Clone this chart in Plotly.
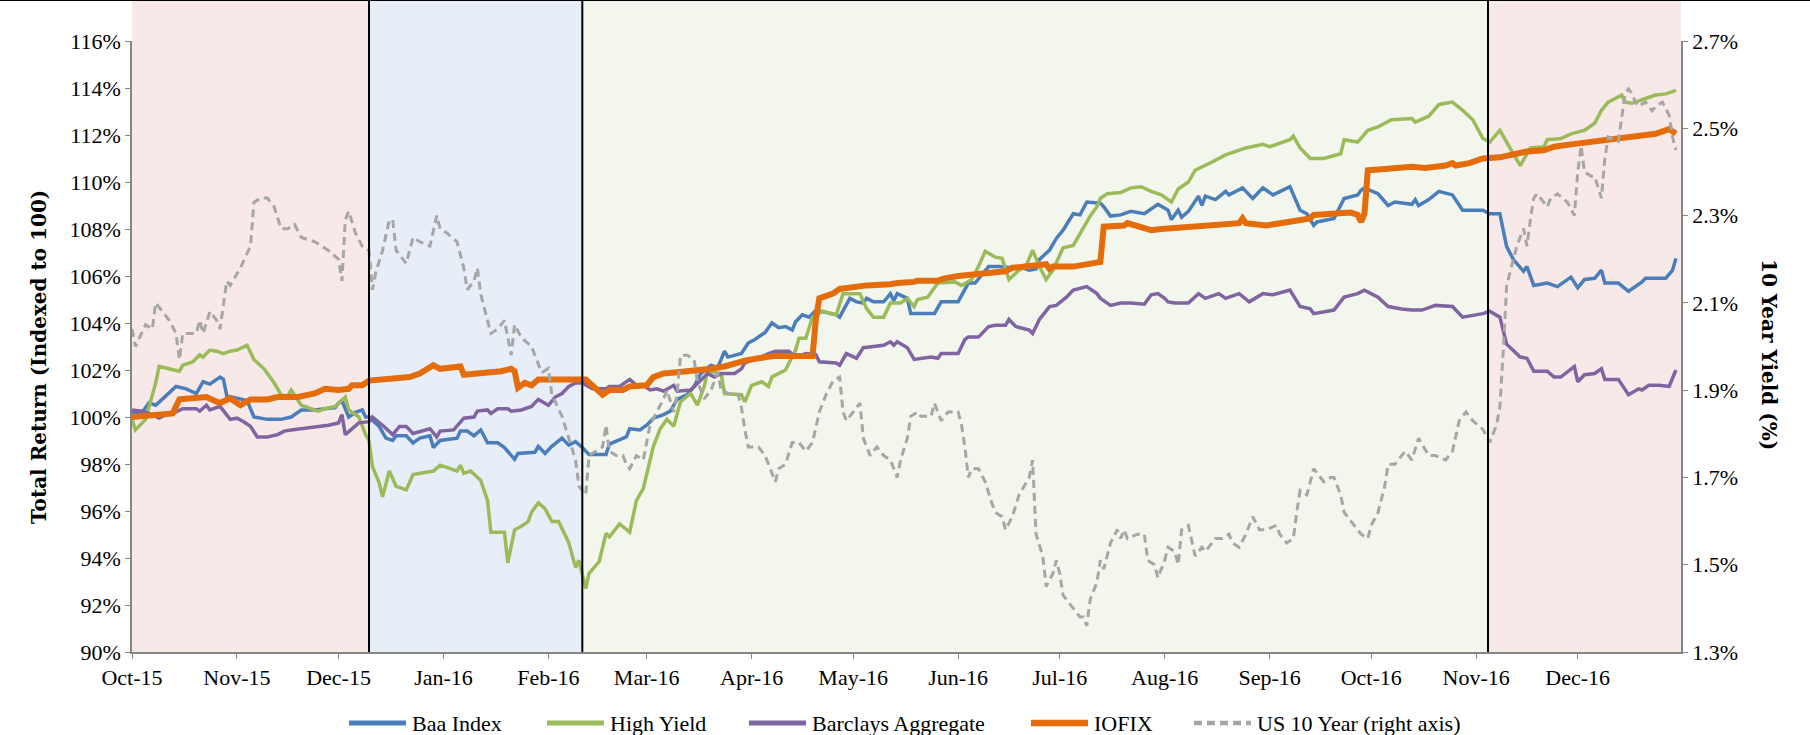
import pandas as pd
import plotly.graph_objects as go

# Daily index levels; x = days after 1 Oct 2015
START = "2015-10-01"
END = "2016-12-31 12:00"

baa = [
    (0, 100.2), (3, 100.2), (5, 100.6), (7, 100.5), (10, 100.9), (13, 101.3), (16, 101.2), (19, 101.0),
    (21, 101.5), (23, 101.4), (26, 101.7), (27, 101.6), (28, 100.9), (31, 100.8), (34, 100.7), (36, 100.0),
    (40, 99.9), (44, 99.9), (47, 100.0), (50, 100.3), (54, 100.3), (60, 100.4), (61, 100.6), (62, 100.7),
    (64, 100.0), (66, 100.2), (68, 100.3), (69, 100.0), (70, 100.0), (73, 99.6), (75, 99.1), (77, 99.0),
    (78, 99.2), (81, 99.2), (83, 98.9), (85, 99.1), (88, 99.2), (89, 98.7), (91, 99.0), (96, 99.1),
    (97, 99.4), (99, 99.4), (101, 99.2), (103, 99.45), (105, 98.9), (108, 98.9), (110, 98.7), (113, 98.2),
    (114, 98.45), (119, 98.5), (120, 98.75), (122, 98.45), (124, 98.75), (127, 99.1), (129, 98.8), (131, 98.95),
    (133, 98.7), (135, 98.4), (140, 98.4), (141, 98.85), (146, 99.15), (147, 99.5), (150, 99.45), (152, 99.65),
    (154, 99.95), (157, 100.1), (159, 100.25), (160, 100.5), (161, 100.75), (164, 100.95), (166, 101.3), (168, 101.85),
    (171, 102.2), (173, 102.1), (175, 102.8), (176, 102.55), (180, 102.7), (182, 103.15), (184, 103.3), (187, 103.6),
    (189, 104.0), (191, 103.8), (193, 103.85), (195, 103.7), (196, 104.05), (198, 104.35), (200, 104.25), (202, 104.55),
    (208, 104.35), (209, 104.25), (212, 105.05), (214, 104.9), (216, 104.85), (217, 105.05), (219, 104.9), (222, 104.9),
    (224, 105.25), (225, 104.95), (226, 105.25), (229, 105.05), (230, 104.4), (237, 104.4), (239, 104.9), (244, 104.9),
    (246, 105.4), (247, 105.7), (249, 105.7), (251, 106.05), (253, 106.4), (256, 106.4), (260, 106.35), (262, 106.4),
    (265, 106.25), (267, 106.3), (268, 106.7), (271, 107.1), (273, 107.6), (275, 107.95), (278, 108.65), (280, 108.6),
    (282, 109.15), (286, 109.1), (287, 108.95), (289, 108.55), (292, 108.6), (295, 108.75), (299, 108.65), (303, 109.05),
    (306, 108.8), (307, 108.4), (309, 108.8), (310, 108.5), (312, 108.75), (315, 109.4), (316, 109.0), (317, 109.4),
    (320, 109.25), (323, 109.6), (324, 109.45), (328, 109.75), (331, 109.3), (334, 109.75), (337, 109.45), (342, 109.8),
    (345, 108.8), (347, 108.65), (349, 108.15), (350, 108.3), (355, 108.45), (358, 109.3), (362, 109.45), (363, 109.65),
    (364, 109.75), (368, 109.5), (371, 109.0), (373, 109.15), (378, 109.05), (379, 109.25), (380, 109.0), (383, 109.25),
    (386, 109.6), (390, 109.45), (393, 108.8), (399, 108.8), (401, 108.65), (404, 108.65), (406, 107.25), (408, 106.7),
    (411, 106.2), (412, 106.4), (414, 105.6), (418, 105.7), (421, 105.55), (425, 105.95), (427, 105.5), (429, 105.85),
    (432, 105.9), (434, 106.25), (435, 105.7), (439, 105.7), (442, 105.35), (446, 105.75), (447, 105.9), (453, 105.9),
    (455, 106.25), (456, 106.75),
]

high_yield = [
    (0, 99.9), (1, 99.45), (4, 99.9), (5, 100.45), (7, 101.45), (8, 102.15), (11, 102.05), (14, 101.95),
    (15, 102.2), (18, 102.35), (20, 102.65), (21, 102.55), (23, 102.85), (25, 102.8), (27, 102.7), (29, 102.8),
    (31, 102.85), (33, 103.0), (34, 103.05), (36, 102.45), (39, 102.05), (42, 101.45), (44, 100.95), (46, 100.9),
    (47, 101.15), (50, 100.5), (53, 100.35), (55, 100.25), (57, 100.35), (60, 100.45), (63, 100.85), (64, 100.3),
    (67, 100.0), (69, 99.25), (70, 99.0), (71, 97.9), (73, 97.2), (74, 96.6), (76, 97.7), (78, 97.05),
    (81, 96.9), (83, 97.55), (89, 97.7), (91, 97.95), (94, 97.8), (96, 97.7), (97, 97.95), (98, 97.6),
    (100, 97.7), (103, 97.3), (105, 96.45), (106, 95.1), (110, 95.1), (111, 93.8), (113, 95.2), (115, 95.35),
    (117, 95.55), (118, 95.95), (120, 96.35), (122, 96.1), (124, 95.55), (126, 95.55), (129, 94.65), (131, 93.6),
    (132, 93.9), (134, 92.7), (135, 93.35), (138, 93.85), (140, 95.05), (141, 94.9), (144, 95.45), (147, 95.1),
    (149, 96.45), (151, 96.95), (154, 98.75), (156, 99.5), (158, 99.9), (160, 99.6), (162, 100.65), (165, 101.0),
    (167, 100.5), (169, 101.3), (170, 101.95), (174, 101.85), (175, 101.0), (180, 100.95), (181, 100.65), (183, 101.35),
    (186, 101.5), (188, 101.3), (189, 101.7), (191, 101.85), (193, 102.0), (196, 102.85), (197, 103.35), (199, 103.35),
    (201, 104.25), (204, 104.5), (208, 104.35), (210, 105.25), (215, 105.25), (217, 104.6), (219, 104.25), (222, 104.25),
    (224, 104.85), (227, 104.85), (229, 105.05), (231, 104.7), (232, 105.0), (235, 105.1), (238, 105.7), (243, 105.75),
    (245, 105.6), (248, 105.85), (250, 106.4), (252, 107.05), (255, 106.8), (257, 106.75), (258, 106.35), (259, 105.85),
    (262, 106.25), (264, 106.4), (266, 107.1), (268, 106.4), (270, 105.85), (272, 106.25), (275, 107.2), (278, 107.3),
    (280, 107.8), (283, 108.55), (285, 108.95), (286, 109.3), (288, 109.5), (292, 109.55), (295, 109.75), (298, 109.8),
    (301, 109.6), (304, 109.45), (307, 109.15), (309, 109.7), (312, 110.0), (314, 110.5), (319, 110.85), (323, 111.15),
    (326, 111.3), (329, 111.45), (334, 111.6), (336, 111.5), (342, 111.8), (343, 111.95), (345, 111.45), (348, 111.0),
    (352, 111.0), (357, 111.2), (358, 111.8), (362, 111.7), (365, 112.2), (368, 112.35), (372, 112.65), (378, 112.7),
    (379, 112.55), (383, 112.8), (386, 113.3), (390, 113.4), (393, 113.05), (396, 112.65), (399, 111.85), (401, 111.7),
    (404, 112.2), (407, 111.45), (410, 110.7), (413, 111.45), (417, 111.5), (418, 111.8), (422, 111.85), (425, 112.05),
    (429, 112.2), (432, 112.5), (434, 113.05), (436, 113.4), (440, 113.7), (441, 113.4), (443, 113.35), (446, 113.5),
    (450, 113.7), (453, 113.75), (456, 113.9),
]

barclays_agg = [
    (0, 100.3), (3, 100.25), (5, 100.15), (8, 99.95), (10, 100.1), (12, 100.15), (15, 100.35), (19, 100.35),
    (20, 100.25), (22, 100.5), (23, 100.3), (26, 100.45), (29, 99.9), (31, 99.95), (33, 99.8), (35, 99.6),
    (37, 99.15), (40, 99.15), (43, 99.25), (45, 99.4), (47, 99.45), (50, 99.5), (54, 99.55), (58, 99.65),
    (61, 99.75), (62, 100.1), (63, 99.25), (65, 99.5), (67, 99.75), (70, 99.8), (71, 100.0), (74, 99.65),
    (77, 99.25), (79, 99.6), (81, 99.6), (83, 99.3), (87, 99.45), (88, 99.5), (90, 99.15), (91, 99.4),
    (95, 99.45), (97, 99.75), (98, 99.95), (101, 100.0), (102, 100.25), (105, 100.3), (106, 100.15), (108, 100.35),
    (111, 100.35), (112, 100.25), (115, 100.3), (118, 100.45), (120, 100.75), (123, 100.5), (125, 100.85), (127, 101.0),
    (129, 101.3), (131, 101.45), (133, 101.45), (136, 101.2), (140, 101.2), (141, 101.3), (144, 101.3), (147, 101.6),
    (149, 101.35), (151, 101.35), (153, 101.15), (155, 101.2), (157, 101.1), (160, 101.35), (161, 101.1), (165, 101.15),
    (167, 101.45), (170, 101.85), (172, 101.7), (174, 101.85), (178, 101.85), (180, 102.05), (181, 102.3), (185, 102.5),
    (188, 102.7), (190, 102.8), (194, 102.8), (196, 102.55), (199, 102.7), (202, 102.65), (203, 102.35), (208, 102.3),
    (209, 102.2), (211, 102.7), (214, 102.5), (216, 102.95), (219, 103.0), (222, 103.05), (224, 103.2), (225, 103.05),
    (226, 103.2), (229, 102.95), (231, 102.45), (236, 102.55), (238, 102.5), (239, 102.7), (244, 102.7), (246, 103.3),
    (247, 103.4), (250, 103.4), (253, 103.85), (255, 103.9), (258, 103.9), (259, 104.15), (261, 103.85), (265, 103.7),
    (266, 103.55), (268, 104.15), (271, 104.7), (273, 104.75), (276, 105.1), (278, 105.4), (282, 105.55), (285, 105.25),
    (286, 105.05), (289, 104.75), (292, 104.85), (295, 104.85), (299, 104.8), (301, 105.2), (303, 105.25), (305, 105.05),
    (306, 104.9), (308, 104.85), (310, 104.85), (312, 104.85), (315, 105.25), (317, 105.05), (321, 105.25), (323, 105.05),
    (327, 105.25), (330, 104.9), (334, 105.25), (337, 105.2), (342, 105.4), (345, 104.7), (348, 104.6), (349, 104.4),
    (355, 104.55), (358, 105.1), (362, 105.25), (364, 105.4), (368, 105.1), (371, 104.7), (375, 104.6), (378, 104.55),
    (381, 104.55), (385, 104.75), (390, 104.7), (393, 104.25), (399, 104.4), (401, 104.5), (404, 104.25), (406, 103.1),
    (410, 102.55), (412, 102.5), (414, 101.95), (418, 101.95), (420, 101.7), (422, 101.7), (426, 102.15), (427, 101.5),
    (429, 101.8), (432, 101.85), (434, 102.05), (435, 101.6), (439, 101.6), (442, 100.95), (445, 101.2), (446, 101.15),
    (448, 101.35), (451, 101.35), (454, 101.3), (456, 102.0),
]

iofix = [
    (0, 100.0), (8, 100.1), (12, 100.15), (14, 100.75), (19, 100.8), (22, 100.85), (25, 100.65), (26, 100.6),
    (29, 100.8), (32, 100.5), (35, 100.75), (40, 100.75), (43, 100.85), (49, 100.85), (54, 101.0), (57, 101.2),
    (61, 101.15), (64, 101.2), (65, 101.35), (68, 101.35), (70, 101.55), (74, 101.6), (76, 101.65), (78, 101.7),
    (82, 101.7), (85, 101.85), (87, 102.05), (89, 102.2), (91, 102.05), (97, 102.15), (98, 101.8), (102, 101.85),
    (104, 101.9), (109, 101.95), (112, 102.05), (113, 101.95), (114, 101.25), (116, 101.45), (118, 101.35), (120, 101.6),
    (134, 101.6), (137, 101.25), (139, 100.95), (141, 101.15), (145, 101.15), (147, 101.3), (152, 101.35), (154, 101.7),
    (157, 101.85), (161, 101.9), (165, 101.95), (167, 102.0), (171, 102.05), (175, 102.15), (178, 102.3), (181, 102.4),
    (185, 102.5), (189, 102.55), (190, 102.6), (201, 102.6), (202, 104.2), (203, 105.05), (207, 105.25), (209, 105.45),
    (215, 105.55), (217, 105.6), (224, 105.65), (226, 105.7), (231, 105.75), (232, 105.8), (238, 105.8), (240, 105.9),
    (244, 106.0), (250, 106.1), (252, 106.15), (258, 106.2), (260, 106.35), (264, 106.4), (270, 106.5), (271, 106.3),
    (272, 106.4), (278, 106.4), (283, 106.5), (286, 106.6), (287, 108.1), (293, 108.15), (294, 108.25), (298, 108.1),
    (301, 107.95), (304, 108.0), (308, 108.05), (314, 108.15), (320, 108.2), (327, 108.25), (328, 108.45), (329, 108.25),
    (335, 108.15), (342, 108.3), (348, 108.45), (349, 108.6), (355, 108.65), (360, 108.7), (362, 108.6), (363, 108.3),
    (364, 108.65), (365, 110.5), (370, 110.55), (378, 110.65), (382, 110.6), (388, 110.7), (390, 110.8), (391, 110.7),
    (395, 110.8), (399, 111.0), (404, 111.05), (410, 111.2), (412, 111.3), (417, 111.35), (420, 111.5), (425, 111.6),
    (430, 111.7), (437, 111.8), (444, 111.95), (450, 112.05), (454, 112.25), (456, 112.05),
]

us_10yr = [
    (0, 2.04), (1, 2.00), (4, 2.05), (6, 2.04), (7, 2.10), (9, 2.08), (11, 2.06), (13, 2.03), (14, 1.97),
    (15, 2.03), (17, 2.03), (19, 2.03), (20, 2.06), (21, 2.03), (23, 2.08), (25, 2.06), (26, 2.04), (28, 2.15),
    (29, 2.14), (32, 2.18), (35, 2.23), (36, 2.33), (38, 2.34), (40, 2.34), (42, 2.32), (44, 2.27), (46, 2.27),
    (48, 2.28), (50, 2.25), (54, 2.24), (58, 2.22), (61, 2.20), (62, 2.15), (63, 2.29), (64, 2.31), (66, 2.26),
    (68, 2.23), (70, 2.22), (71, 2.13), (72, 2.17), (74, 2.22), (76, 2.29), (77, 2.29), (78, 2.22), (81, 2.19),
    (83, 2.25), (85, 2.24), (88, 2.23), (90, 2.30), (91, 2.27), (93, 2.26), (96, 2.24), (98, 2.18), (99, 2.13),
    (101, 2.15), (102, 2.18), (103, 2.12), (105, 2.06), (106, 2.03), (108, 2.04), (110, 2.06), (112, 1.98), (113, 2.05),
    (115, 2.02), (118, 2.00), (119, 1.98), (121, 1.94), (123, 1.95), (124, 1.89), (127, 1.84), (129, 1.79), (131, 1.74),
    (132, 1.68), (134, 1.66), (135, 1.75), (137, 1.76), (139, 1.77), (140, 1.82), (141, 1.76), (143, 1.75), (145, 1.75),
    (146, 1.73), (147, 1.72), (149, 1.75), (151, 1.74), (153, 1.82), (155, 1.85), (157, 1.88), (158, 1.90), (160, 1.85),
    (161, 1.89), (162, 1.98), (164, 1.98), (166, 1.97), (167, 1.92), (169, 1.88), (171, 1.90), (173, 1.94), (174, 1.90),
    (177, 1.89), (179, 1.89), (180, 1.86), (181, 1.81), (182, 1.77), (185, 1.77), (187, 1.75), (188, 1.73), (190, 1.69),
    (191, 1.72), (193, 1.73), (195, 1.78), (197, 1.78), (199, 1.76), (201, 1.78), (203, 1.85), (205, 1.89), (207, 1.92),
    (209, 1.93), (210, 1.85), (211, 1.83), (213, 1.85), (215, 1.87), (216, 1.79), (218, 1.75), (220, 1.77), (222, 1.75),
    (224, 1.74), (226, 1.70), (227, 1.74), (229, 1.79), (230, 1.84), (232, 1.85), (233, 1.84), (236, 1.84), (237, 1.87),
    (239, 1.83), (241, 1.85), (244, 1.85), (245, 1.82), (246, 1.77), (247, 1.70), (248, 1.72), (250, 1.72), (252, 1.69),
    (254, 1.64), (255, 1.62), (257, 1.61), (258, 1.58), (260, 1.61), (262, 1.66), (265, 1.70), (266, 1.74), (267, 1.57),
    (269, 1.52), (270, 1.45), (272, 1.48), (273, 1.51), (274, 1.48), (275, 1.43), (278, 1.40), (280, 1.38), (281, 1.38),
    (282, 1.36), (283, 1.42), (285, 1.46), (286, 1.51), (287, 1.49), (289, 1.55), (291, 1.58), (292, 1.56), (293, 1.58),
    (294, 1.56), (297, 1.57), (299, 1.57), (300, 1.51), (302, 1.50), (303, 1.47), (305, 1.51), (306, 1.54), (308, 1.53),
    (309, 1.50), (310, 1.58), (312, 1.59), (314, 1.52), (316, 1.54), (317, 1.53), (320, 1.56), (322, 1.56), (324, 1.57),
    (325, 1.55), (327, 1.54), (329, 1.57), (331, 1.61), (333, 1.58), (335, 1.58), (338, 1.59), (339, 1.57), (341, 1.55),
    (343, 1.56), (344, 1.62), (345, 1.67), (347, 1.66), (349, 1.72), (350, 1.71), (352, 1.69), (354, 1.70), (355, 1.70),
    (357, 1.66), (358, 1.62), (360, 1.60), (363, 1.57), (365, 1.56), (366, 1.59), (368, 1.62), (370, 1.68), (371, 1.73),
    (373, 1.73), (376, 1.76), (378, 1.74), (380, 1.79), (383, 1.75), (385, 1.75), (388, 1.74), (390, 1.76), (392, 1.83),
    (394, 1.85), (396, 1.83), (399, 1.81), (401, 1.78), (403, 1.82), (404, 1.86), (405, 1.99), (406, 2.14), (408, 2.20),
    (409, 2.23), (411, 2.27), (412, 2.23), (413, 2.29), (414, 2.34), (415, 2.35), (417, 2.33), (418, 2.32), (419, 2.34),
    (421, 2.35), (424, 2.33), (426, 2.30), (427, 2.40), (428, 2.46), (429, 2.40), (431, 2.39), (432, 2.39), (434, 2.34),
    (435, 2.43), (436, 2.48), (439, 2.47), (440, 2.53), (441, 2.58), (442, 2.59), (443, 2.58), (444, 2.56), (445, 2.55),
    (447, 2.56), (449, 2.54), (450, 2.55), (452, 2.56), (454, 2.53), (455, 2.48), (456, 2.45),
]

# market regimes shaded behind the lines
regime_edges = ["2015-10-01", "2015-12-10", "2016-02-11", "2016-11-04 12:00", END]
regime_colors = ["#F7E9E8", "#E8EEF7", "#F3F6EC", "#F7E9E8"]

left_ticks = list(range(90, 118, 2))
right_ticks = [1.3, 1.5, 1.7, 1.9, 2.1, 2.3, 2.5, 2.7]

start = pd.Timestamp(START)


def to_xy(pairs):
    days, vals = zip(*pairs)
    return start + pd.to_timedelta(list(days), unit="D"), list(vals)


# plot area in pixels: left 132, right 1681, top 41, bottom 652
PW, PH = 1549, 611
TOP = 1 + 41 / PH  # shading runs up to the top edge of the image


def px(x):
    return (x - 132) / PW


series = [
    # name, data, axis, colour, width, dash, legend line start (px)
    ("Baa Index", baa, "y", "#4A7EBB", 3.5, "solid", 349),
    ("High Yield", high_yield, "y", "#9BBB59", 3.5, "solid", 547),
    ("Barclays Aggregate", barclays_agg, "y", "#8064A2", 3.5, "solid", 749),
    ("IOFIX", iofix, "y", "#E46C0A", 6, "solid", 1031),
    ("US 10 Year (right axis)", us_10yr, "y2", "#A6A6A6", 3, "8px,5px", 1194),
]

fig = go.Figure()
shapes = []
annotations = []
LEG_Y = (652 - 723) / PH

for i, color in enumerate(regime_colors):
    shapes.append(dict(type="rect", xref="x", yref="paper", x0=regime_edges[i], x1=regime_edges[i + 1],
                       y0=0, y1=TOP, fillcolor=color, line_width=0, layer="below"))
for edge in regime_edges[1:-1]:
    shapes.append(dict(type="line", xref="x", yref="paper", x0=edge, x1=edge, y0=0, y1=TOP,
                       line=dict(color="black", width=2), layer="above"))
shapes.append(dict(type="line", xref="paper", yref="paper", x0=px(0), x1=px(1810),
                   y0=TOP, y1=TOP, line=dict(color="black", width=2)))

for name, data, axis, color, width, dash, lx in series:
    x, y = to_xy(data)
    fig.add_trace(go.Scatter(x=x, y=y, mode="lines", name=name, yaxis=axis, showlegend=False,
                             line=dict(color=color, width=width, dash=dash)))
    # legend drawn by hand so the key lines match the long swatches of the original
    shapes.append(dict(type="line", xref="paper", yref="paper", x0=px(lx), x1=px(lx + 57),
                       y0=LEG_Y, y1=LEG_Y, line=dict(color=color, width=min(width + 1.5, 6.5), dash=dash)))
    annotations.append(dict(text=name, xref="paper", yref="paper", x=px(lx + 61), y=LEG_Y,
                            xanchor="left", yanchor="middle", showarrow=False,
                            font=dict(family="Liberation Serif", size=22, color="black")))

annotations += [
    dict(text="<b>Total Return (Indexed to 100)</b>", xref="paper", yref="paper",
         x=px(25), y=(652 - 357) / PH, textangle=-90, showarrow=False,
         font=dict(family="DejaVu Serif", size=20, color="black")),
    dict(text="<b>10 Year Yield (%)</b>", xref="paper", yref="paper",
         x=px(1783), y=(652 - 355) / PH, textangle=90, showarrow=False,
         font=dict(family="DejaVu Serif", size=20, color="black")),
]

axis_style = dict(showline=True, linecolor="#868686", linewidth=1.5, ticks="outside", ticklen=5,
                  tickcolor="#868686", showgrid=False, zeroline=False,
                  tickfont=dict(family="Liberation Serif", size=22, color="black"))

fig.update_layout(
    width=1810, height=735,
    margin=dict(l=132, r=129, t=41, b=83, autoexpand=False),
    paper_bgcolor="white", plot_bgcolor="white",
    shapes=shapes,
    annotations=annotations,
    showlegend=False,
    xaxis=dict(type="date", range=[START, END], tick0="2015-10-01", dtick="M1", tickformat="%b-%y",
               **axis_style),
    yaxis=dict(range=[90, 116], tickmode="array", tickvals=left_ticks,
               ticktext=[f"{v}%" for v in left_ticks], **axis_style),
    yaxis2=dict(range=[1.3, 2.7], overlaying="y", side="right", tickmode="array", tickvals=right_ticks,
                ticktext=[f"{v:.1f}%" for v in right_ticks], **axis_style),
)

fig.write_html("out.html", config={"displayModeBar": False},
               post_script="document.body.style.margin='0';")
